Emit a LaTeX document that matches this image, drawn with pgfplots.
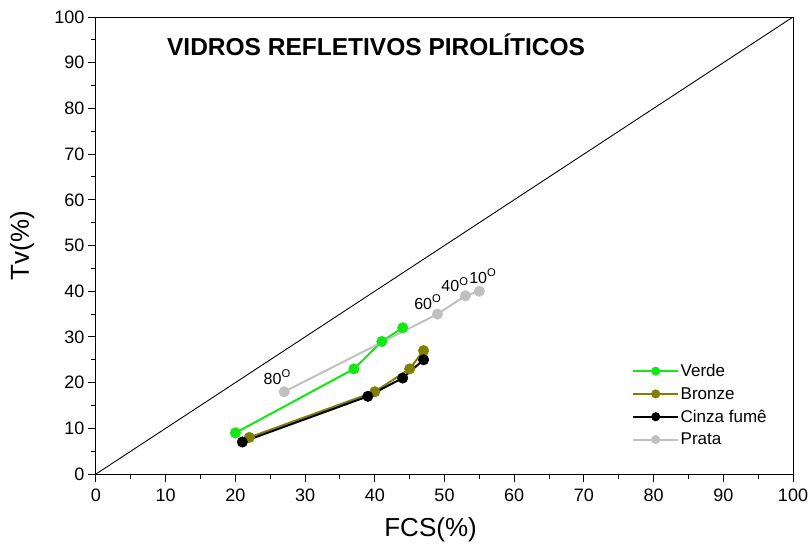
\documentclass[border=0pt]{standalone}
\usepackage{fontspec}
\setmainfont{Liberation Sans}
\usepackage{pgfplots}
\pgfplotsset{compat=1.18}
\definecolor{verde}{RGB}{20,232,20}
\definecolor{bronze}{RGB}{128,128,0}
\definecolor{prata}{RGB}{192,192,192}
\begin{document}
\begin{tikzpicture}
\useasboundingbox (-96pt,-76pt) rectangle (714pt,474pt);
\begin{axis}[
  scale only axis, width=697pt, height=457pt,
  xmin=0, xmax=100, ymin=0, ymax=100,
  xtick={0,10,...,100}, ytick={0,10,...,100},
  minor x tick num=1, minor y tick num=1,
  tick pos=left, tick align=outside,
  major tick length=8pt, minor tick length=5pt,
  every tick/.style={black, line width=1pt},
  axis line style={line width=1pt},
  /pgf/number format/assume math mode=true,
  ticklabel style={font=\fontsize{18}{18}\selectfont},
  xticklabel shift=3pt, yticklabel shift=0pt,
  xlabel={FCS(\%)}, ylabel={Tv(\%)},
  label style={font=\fontsize{26}{26}\selectfont},
  xlabel style={at={(axis description cs:0.48,-0.122)}, anchor=center},
  ylabel style={at={(axis description cs:-0.106,0.5)}, anchor=center},
  legend style={at={(axis cs:76.9,24.4)}, anchor=north west, draw=none, fill=none,
    inner sep=0pt, font=\fontsize{17}{17}\selectfont, row sep=6.3pt,
    nodes={inner sep=1.5pt}},
  legend cell align=left,
  legend image code/.code={\draw[line width=2pt, mark repeat=2,mark phase=2,mark size=4.2pt] plot coordinates {(0pt,0pt)(22.5pt,0pt)(45pt,0pt)};},
]
\addplot[black, line width=0.9pt, mark=none, forget plot] coordinates {(0,0)(100,100)};
\addplot[verde, line width=2pt, mark=*, mark size=5.2pt, mark options={solid, fill=verde, line width=0.6pt}] coordinates {(20,9)(37,23)(41,29)(44,32)};
\addlegendentry{Verde}
\addplot[bronze, line width=2pt, mark=*, mark size=5.2pt, mark options={solid, fill=bronze, line width=0.6pt}] coordinates {(22,8)(40,18)(45,23)(47,27)};
\addlegendentry{Bronze}
\addplot[black, line width=2pt, mark=*, mark size=5.2pt, mark options={solid, fill=black, line width=0.6pt}] coordinates {(21,7)(39,17)(44,21)(47,25)};
\addlegendentry{Cinza fumê}
\addplot[prata, line width=2pt, mark=*, mark size=5.2pt, mark options={solid, fill=prata, line width=0.6pt}] coordinates {(27,18)(49,35)(53,39)(55,40)};
\addlegendentry{Prata}
\node[anchor=west, font=\fontsize{24.5}{24.5}\selectfont\bfseries] at (axis cs:9.7,93.9) {VIDROS REFLETIVOS PIROLÍTICOS};
\node[font=\fontsize{16}{16}\selectfont] at (axis cs:26,21.2) {80\textsuperscript{O}};
\node[font=\fontsize{16}{16}\selectfont] at (axis cs:47.6,37.6) {60\textsuperscript{O}};
\node[font=\fontsize{16}{16}\selectfont] at (axis cs:51.5,41.4) {40\textsuperscript{O}};
\node[font=\fontsize{16}{16}\selectfont] at (axis cs:55.5,43.3) {10\textsuperscript{O}};
\end{axis}
\end{tikzpicture}
\end{document}
